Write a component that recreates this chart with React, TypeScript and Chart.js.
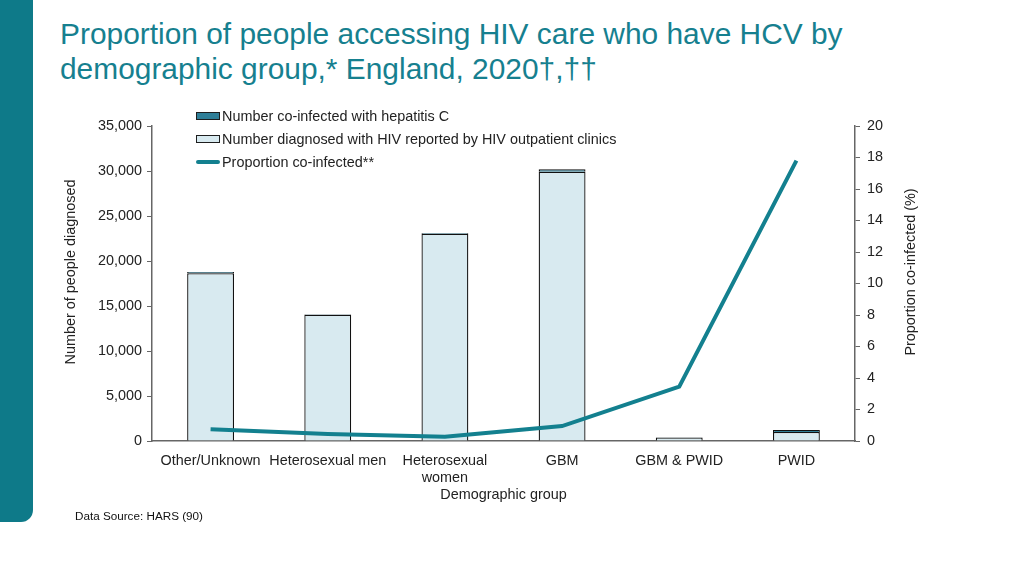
import React, { useEffect, useRef } from "react";
import { Chart, registerables } from "chart.js";

Chart.register(...registerables);

const categories: (string | string[])[] = [
  "Other/Unknown",
  "Heterosexual men",
  ["Heterosexual", "women"],
  "GBM",
  "GBM & PWID",
  "PWID",
];
const diagnosedHIV = [18640, 14020, 23040, 29910, 396, 1000];
const coinfectedHCV = [140, 60, 60, 290, 14, 220];
const proportionCoinfected = [0.75, 0.45, 0.27, 0.95, 3.45, 17.8];
const leftTicks = [0, 5000, 10000, 15000, 20000, 25000, 30000, 35000];
const rightTicks = [0, 2, 4, 6, 8, 10, 12, 14, 16, 18, 20];

const TEAL = "#16808f";
const FONT = "'Liberation Sans', Arial, Helvetica, sans-serif";
const FS = 14.4;

export default function App() {
  const ref = useRef<HTMLCanvasElement | null>(null);

  useEffect(() => {
    if (!ref.current) return;
    const chart = new Chart(ref.current, {
      data: {
        labels: categories as any,
        datasets: [
          {
            type: "line",
            label: "Proportion co-infected**",
            data: proportionCoinfected,
            yAxisID: "y1",
            borderColor: "#13808f",
            borderWidth: 4,
            pointRadius: 0,
            tension: 0,
            order: 0,
          },
          {
            type: "bar",
            label: "Number diagnosed with HIV reported by HIV outpatient clinics",
            data: diagnosedHIV,
            yAxisID: "y",
            backgroundColor: "#d8eaf0",
            borderColor: "#111",
            borderWidth: 1.3,
            stack: "s",
            barPercentage: 0.8,
            categoryPercentage: 0.5,
            order: 1,
          },
          {
            type: "bar",
            label: "Number co-infected with hepatitis C",
            data: coinfectedHCV,
            yAxisID: "y",
            backgroundColor: "#2f7f98",
            borderColor: "#111",
            borderWidth: 1.3,
            stack: "s",
            barPercentage: 0.8,
            categoryPercentage: 0.5,
            order: 1,
          },
        ],
      } as any,
      options: {
        animation: false,
        responsive: false,
        maintainAspectRatio: false,
        layout: { padding: { left: 58, right: 104, top: 126, bottom: 70 } },
        plugins: { legend: { display: false }, tooltip: { enabled: false } },
        scales: {
          x: {
            stacked: true,
            grid: { display: false, drawTicks: false },
            border: { display: true, color: "#666", width: 1.5 },
            ticks: { color: "#222", font: { family: FONT, size: FS }, padding: 11, maxRotation: 0, autoSkip: false },
            title: { display: true, text: "Demographic group", color: "#222", font: { family: FONT, size: FS }, padding: { top: 2, bottom: 2 } },
            afterFit: (s: any) => { s.height = 65; },
          },
          y: {
            stacked: true,
            position: "left",
            min: 0,
            max: 35000,
            afterBuildTicks: (s: any) => { s.ticks = leftTicks.map((v) => ({ value: v })); },
            grid: { drawOnChartArea: false, drawTicks: true, tickLength: 5, color: "#666" },
            border: { display: true, color: "#666", width: 1.5 },
            ticks: {
              color: "#222",
              font: { family: FONT, size: FS },
              padding: 5,
              callback: (v: any) => Number(v).toLocaleString("en-GB"),
            },
            afterFit: (s: any) => { s.width = 94; },
          },
          y1: {
            position: "right",
            min: 0,
            max: 20,
            afterBuildTicks: (s: any) => { s.ticks = rightTicks.map((v) => ({ value: v })); },
            grid: { drawOnChartArea: false, drawTicks: true, tickLength: 5, color: "#666" },
            border: { display: true, color: "#666", width: 1.5 },
            ticks: { color: "#222", font: { family: FONT, size: FS }, padding: 7 },
            afterFit: (s: any) => { s.width = 65; },
          },
        },
      } as any,
    });
    return () => chart.destroy();
  }, []);

  const legendRow = (swatch: React.ReactNode, text: string, top: number) => (
    <div style={{ position: "absolute", left: 196, top, height: 16, display: "flex", alignItems: "center", fontFamily: FONT, fontSize: FS, color: "#222", whiteSpace: "nowrap" }}>
      <div style={{ width: 24, display: "flex", alignItems: "center", marginRight: 2 }}>{swatch}</div>
      <span>{text}</span>
    </div>
  );

  const vTitle = (text: string, cx: number, cy: number) => (
    <div style={{ position: "absolute", left: cx - 150, top: cy - 10, width: 300, height: 20, lineHeight: "20px", textAlign: "center", transform: "rotate(-90deg)", fontFamily: FONT, fontSize: FS, color: "#222", whiteSpace: "nowrap" }}>
      {text}
    </div>
  );

  return (
    <div style={{ position: "absolute", left: 0, top: 0, width: 1024, height: 576, background: "#fff", overflow: "hidden" }}>
      <div style={{ position: "absolute", left: 0, top: 0, width: 33, height: 522, background: "#0e7a89", borderBottomRightRadius: 12 }} />
      <div style={{ position: "absolute", left: 60, top: 16, fontFamily: FONT, fontSize: 29.9, lineHeight: "35px", color: TEAL, whiteSpace: "nowrap" }}>
        Proportion of people accessing HIV care who have HCV by
        <br />
        demographic group,* England, 2020†,††
      </div>
      <canvas ref={ref} width={1024} height={576} style={{ position: "absolute", left: 0, top: 0 }} />
      {vTitle("Number of people diagnosed", 70, 272)}
      {vTitle("Proportion co-infected (%)", 910, 272)}
      {legendRow(<div style={{ width: 22, height: 6, background: "#2f7f98", border: "1px solid #1e1e1e" }} />, "Number co-infected with hepatitis C", 108)}
      {legendRow(<div style={{ width: 22, height: 6, background: "#d8eaf0", border: "1px solid #1e1e1e" }} />, "Number diagnosed with HIV reported by HIV outpatient clinics", 131)}
      {legendRow(<div style={{ width: 24, height: 4, background: "#13808f", borderRadius: 2 }} />, "Proportion co-infected**", 154)}
      <div style={{ position: "absolute", left: 75, top: 509, fontFamily: FONT, fontSize: 11.7, color: "#111" }}>Data Source: HARS (90)</div>
    </div>
  );
}
